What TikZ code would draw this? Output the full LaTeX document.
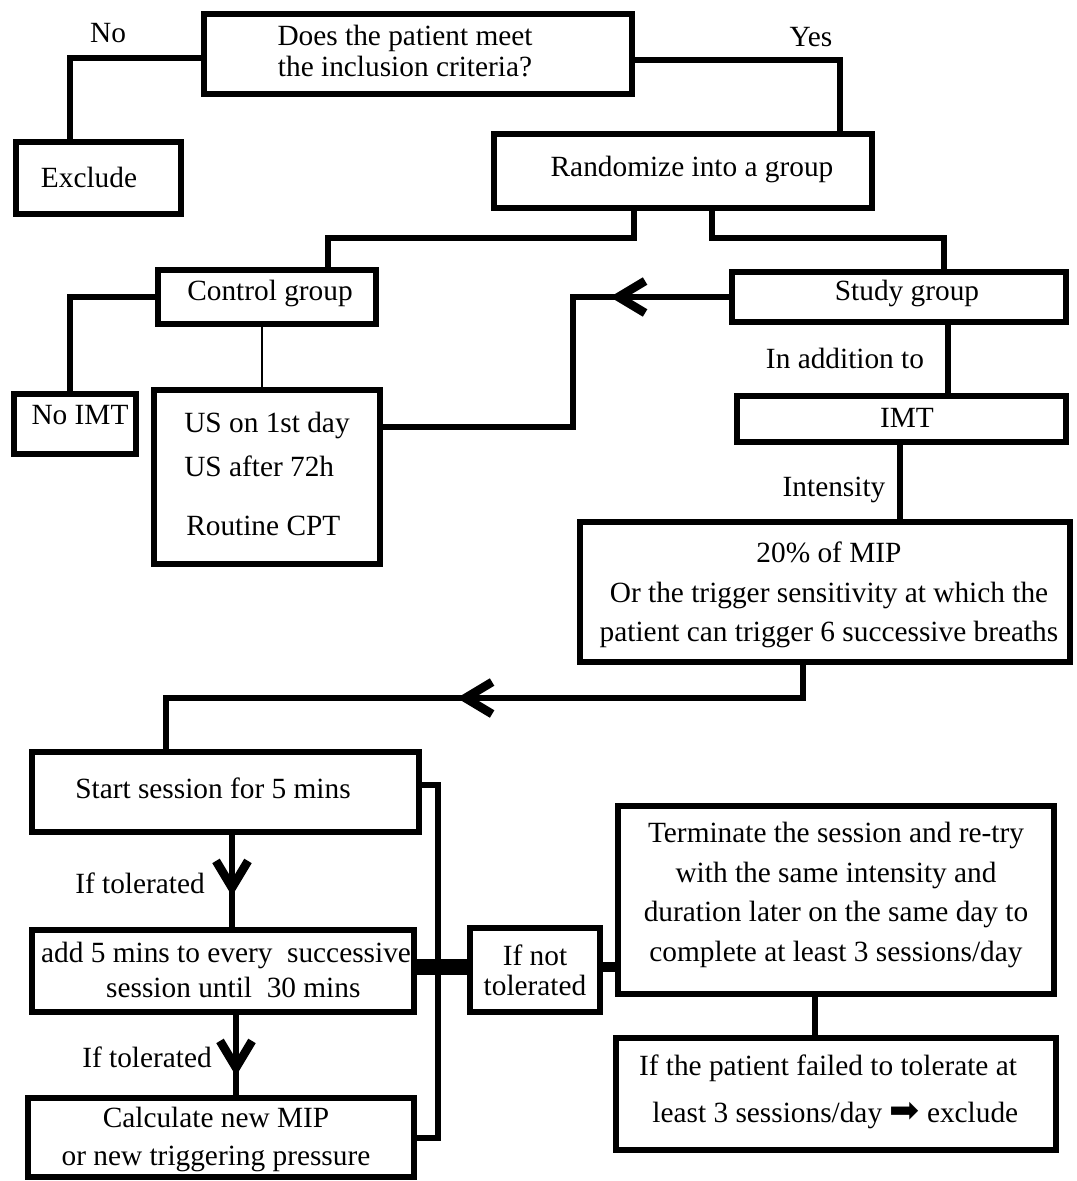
\documentclass[tikz,border=0pt]{standalone}
\usepackage{fontspec}
\setmainfont{Liberation Serif}
\newfontfamily\symfont{DejaVu Sans}
\usetikzlibrary{calc,arrows.meta}
\begin{document}
\begin{tikzpicture}[x=0.75pt,y=-0.75pt,
  bx/.style 2 args={draw, line width=5pt, inner sep=0pt, outer sep=0pt,
    minimum width=#1*0.75pt, minimum height=#2*0.75pt},
  ln/.style={line width=4.5pt},
  arr/.style={-{Straight Barb[length=20pt,width=24pt,line width=6.5pt]}},
  txt/.style={inner sep=0pt, align=center, font=\fontsize{22}{26}\selectfont},
  sk/.style={font=\fontsize{22}{#1}\selectfont}]
\useasboundingbox (0,0) rectangle (1076,1181);
% boxes
\node[bx={428}{80}] (q) at (418,54) {};
\node[bx={165}{72}] (ex) at (98.5,178) {};
\node[bx={378}{74}] (rnd) at (683,171) {};
\node[bx={218}{54}] (ctl) at (267,297) {};
\node[bx={334}{50}] (stu) at (899,297) {};
\node[bx={122}{60}] (nimt) at (75,424) {};
\node[bx={226}{174}] (us) at (267,477) {};
\node[bx={329}{46}] (imt) at (901.5,419) {};
\node[bx={490}{140}] (inten) at (825,592) {};
\node[bx={387}{80}] (st) at (225.5,792) {};
\node[bx={382}{82}] (add) at (223,971) {};
\node[bx={386}{79}] (calc) at (221,1137.5) {};
\node[bx={130}{84}] (inot) at (535,970) {};
\node[bx={436}{188}] (term) at (836,900) {};
\node[bx={440}{112}] (fail) at (836,1094) {};
% connectors
\draw[ln] ($(q.west)+(0,4)$) -| ($(ex.north)+(-28.5,0)$);
\draw[ln] ($(q.east)+(0,6)$) -| ($(rnd.north)+(157,0)$);
\draw[ln] ($(rnd.south)+(-49,0)$) |- ($(ctl.north)+(61,-32)$) -- ($(ctl.north)+(61,0)$);
\draw[ln] ($(rnd.south)+(29,0)$) |- ($(stu.north)+(45,-34)$) -- ($(stu.north)+(45,0)$);
\draw[ln] (ctl.west) -| ($(nimt.north)+(-5,0)$);
\draw[line width=0.8pt] ($(ctl.south)+(-5,0)$) -- ($(us.north)+(-5,0)$);
\draw[ln] (stu.west) -- ++(-159,0) |- ($(us.east)+(0,-50)$);
\draw[ln,arr] (stu.west) -- ++(-122,0);
\draw[ln] ($(stu.south)+(49,0)$) -- ($(imt.north)+(46.5,0)$);
\draw[ln] ($(imt.south)+(-1.5,0)$) -- ($(inten.north)+(75,0)$);
\draw[ln] ($(inten.south)+(-22,0)$) |- ($(st.north)+(-59.5,-54)$) -- ($(st.north)+(-59.5,0)$);
\draw[ln,arr] ($(inten.south)+(-22,36)$) -- ++(-346,0);
\draw[ln] ($(st.south)+(6.5,0)$) -- ($(add.north)+(9,0)$);
\draw[ln,arr] ($(st.south)+(6.5,0)$) -- ++(0,64);
\draw[ln] ($(add.south)+(13,0)$) -- ($(calc.north)+(15,0)$);
\draw[ln,arr] ($(add.south)+(13,0)$) -- ++(0,64);
\draw[ln] ($(st.east)+(0,-7)$) -- ++(19,0) |- (calc.east);
\draw[line width=12pt] ($(add.east)+(0,-4)$) -- ($(inot.west)+(0,-3)$);
\draw[line width=8pt] ($(inot.east)+(0,-3)$) -- ($(term.west |- inot.east)+(0,-3)$);
\draw[ln] ($(term.south)+(-21,0)$) -- ($(fail.north)+(-21,0)$);
% texts
\node[txt,sk=23.25] (tq) at (405,51) {Does the patient meet\\the inclusion criteria?};
\node[txt] (tno) at (108,33) {No};
\node[txt] (tyes) at (811,37) {Yes};
\node[txt] (tex) at (89,177) {Exclude};
\node[txt] (trnd) at (692,169) {Randomize into a group};
\node[txt] (tctl) at (270,293) {Control group};
\node[txt] (tstu) at (907,293) {Study group};
\node[txt] (tnimt) at (80,415) {No IMT};
\node[txt,anchor=west] (tus1) at (184,425) {US on 1st day};
\node[txt,anchor=west] (tus2) at (184,466) {US after 72h};
\node[txt,anchor=west] (tus3) at (186,526) {Routine CPT};
\node[txt] (tadd1) at (845,358) {In addition to};
\node[txt] (timt) at (907,418) {IMT};
\node[txt] (tint) at (834,490) {Intensity};
\node[txt,sk=29.5] (tinten) at (829,595) {20\% of MIP\\Or the trigger sensitivity at which the\\patient can trigger 6 successive breaths};
\node[txt] (tst) at (213,788) {Start session for 5 mins};
\node[txt] (ttol1) at (140,883) {If tolerated};
\node[txt] (ttol2) at (147,1057) {If tolerated};
\node[txt,sk=26.25] (tadd) at (226,970) {add 5 mins to every\ \ successive\\\ \ session until\ \ 30 mins};
\node[txt,sk=28.5] (tcalc) at (216,1139) {Calculate new MIP\\or new triggering pressure};
\node[txt,sk=22.5] (tinot) at (535,970) {If not\\tolerated};
\node[txt,sk=29.8] (tterm) at (836,895) {Terminate the session and re-try\\with the same intensity and\\duration later on the same day to\\complete at least 3 sessions/day};
\node[txt,sk=35.25] (tfail) at (828,1092) {If the patient failed to tolerate at\\\ \ least 3 sessions/day {\symfont\fontsize{27}{27}\selectfont ➡} exclude};
\end{tikzpicture}
\end{document}
